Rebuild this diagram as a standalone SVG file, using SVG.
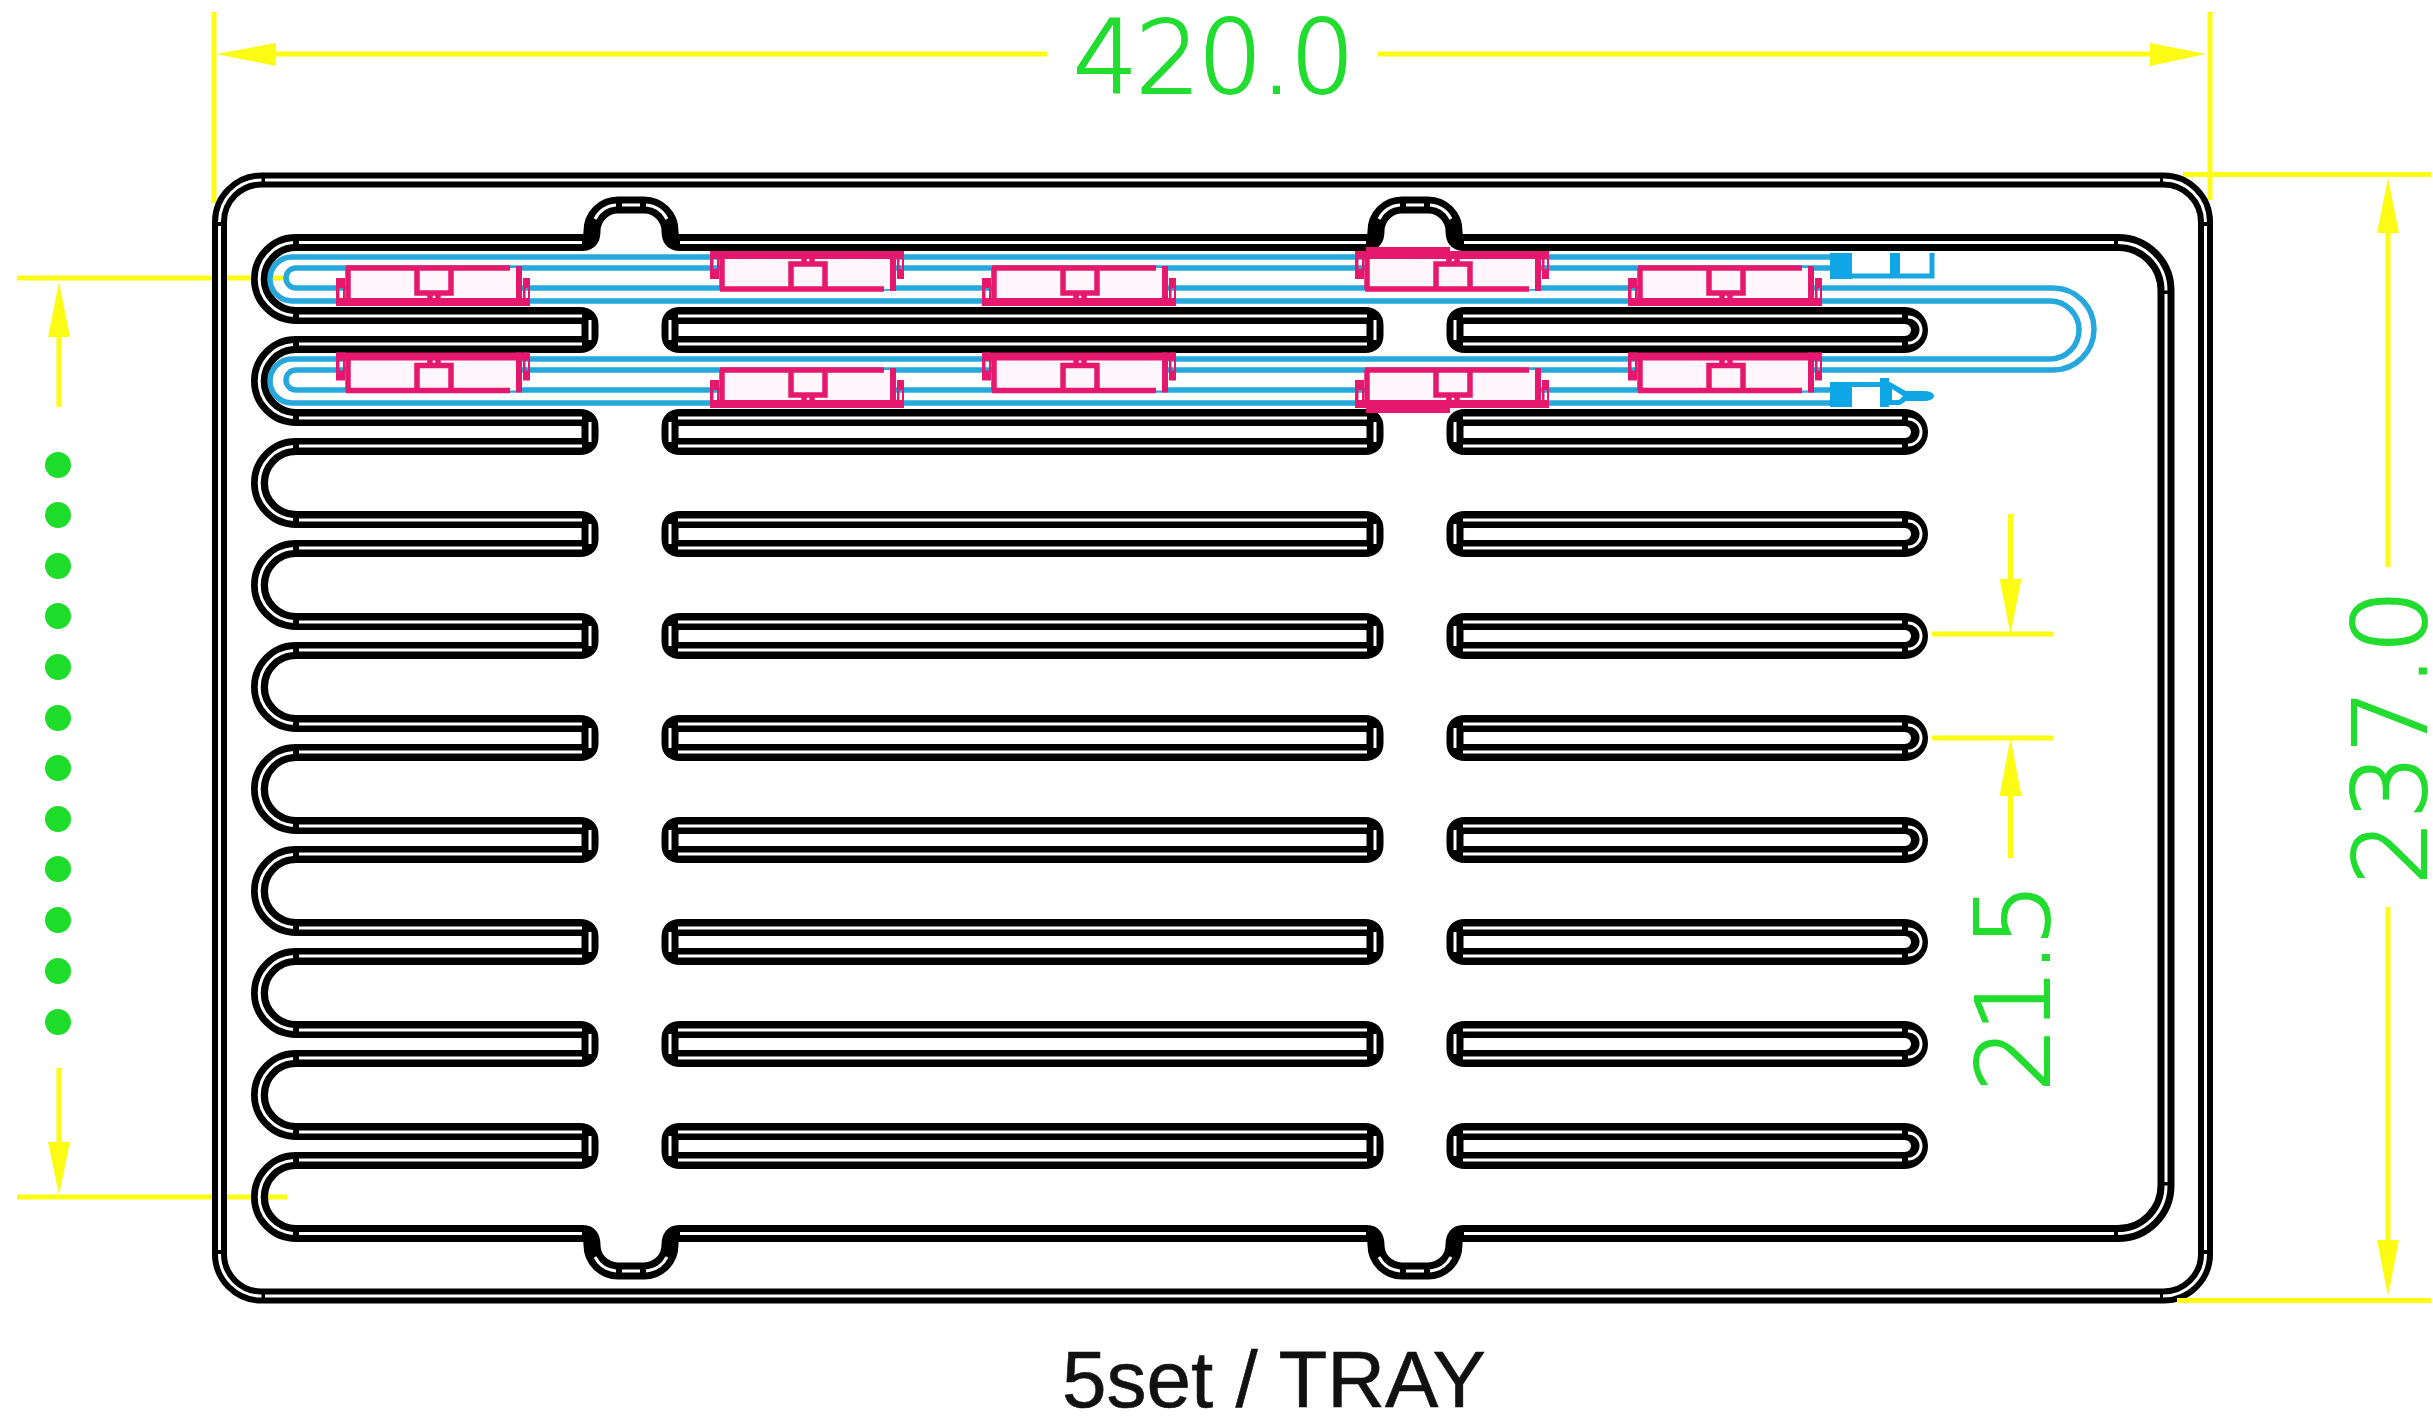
<svg xmlns="http://www.w3.org/2000/svg" xmlns:xlink="http://www.w3.org/1999/xlink" width="2433" height="1421" viewBox="0 0 2433 1421">
<style>
.bk{fill:none;stroke:#000;stroke-width:17;stroke-linejoin:round}
.fb{fill:none;stroke:#000;stroke-width:15;stroke-linejoin:round}
.wh{fill:none;stroke:#fff;stroke-width:3}
.yl{fill:none;stroke:#fbfb14;stroke-width:5}
.ya{fill:#fbfb14;stroke:none}
.tb{fill:none;stroke:#27a8dc;stroke-width:5.500}
.cb{fill:#0fa6e6;stroke:none}
.cl{fill:none;stroke:#18a6e0;stroke-width:5}
.pk{fill:#e6186e;stroke:none}
.pl{fill:none;stroke:#e6186e;stroke-width:5.500}
.gt{font-family:"DejaVu Sans","Liberation Sans",sans-serif;font-weight:200;font-size:102px;fill:#22dc30;stroke:#22dc30;stroke-width:2;text-anchor:middle}
.dot{fill:#1edc2a}
.cap{font-family:"Liberation Sans",Arial,sans-serif;font-size:80px;fill:#111;stroke:#111;stroke-width:.6}
</style>
<defs>
<g id="arc"><path class="bk" d="M296 242.5A36.5 36.5 0 0 0 296 315.5"/><path class="wh" d="M293 242.6A36.5 36.5 0 0 0 293 315.4"/></g>
<g id="rib">
<path class="bk" d="M296 315.5H580Q590 315.5 590 325V335Q590 344.5 580 344.5H296"/>
<path class="bk" d="M680 315.5Q670 315.5 670 325V335Q670 344.5 680 344.5H1365Q1375 344.5 1375 335V325Q1375 315.5 1365 315.5Z"/>
<path class="bk" d="M1465 315.5Q1455 315.5 1455 325V335Q1455 344.5 1465 344.5H1905A14.5 14.5 0 0 0 1905 315.5Z"/>
<path class="wh" d="M299 316H582M299 344H582M590 320V340M678 316H1367M678 344H1367M670 320V340M1375 320V340M1463 316H1902M1463 344H1902M1455 320V340M1908 317A13 13 0 0 1 1908 343"/>
</g>
<g id="compA">
<rect x="346" y="268" width="173" height="35" fill="#fff6fb"/>
<path class="pl" d="M346 268H510M348 268V305"/>
<rect class="pk" x="516" y="266" width="6" height="40"/>
<rect class="pk" x="336" y="298" width="194" height="8"/>
<path class="pk" fill-rule="evenodd" d="M336 278H345V306H336ZM339.500 288V298H343V288Z"/>
<path class="pk" fill-rule="evenodd" d="M523 278H530V306H523ZM525.500 288V298H528V288Z"/>
<path class="pl" d="M417 268V293H451V268M430 293V300M438 293V300" fill="none"/>
</g>
</defs>
<rect width="2433" height="1421" fill="#fff"/>

<g id="dimensions-extension">
<path class="yl" d="M214 12V203M2210 12V200M2183 174.500H2431M17 278H287M17 1197H287M1932 634H2053M1932 738H2053"/>
</g>

<g id="frame">
<path class="fb" d="M261.500 180H2163A42 42 0 0 1 2205.500 222V1254A42 42 0 0 1 2163 1296H261.500A42 42 0 0 1 219.500 1254V222A42 42 0 0 1 261.500 180Z"/>
<path class="wh" d="M265 180H2160M2163 180A42 42 0 0 1 2205.500 222M2205.500 226V1250M2205.500 1254A42 42 0 0 1 2163 1296M2160 1296H265M261.500 1296A42 42 0 0 1 219.500 1254M219.500 1250V226M219.500 222A42 42 0 0 1 261.500 180"/>
</g>
<path class="yl" d="M2177 1300.500H2431"/>

<g id="comb">
<path class="bk" d="M296 242.500H583Q592 242.500 592 231A26 26 0 0 1 618 205H644A26 26 0 0 1 670 231Q670 242.500 679 242.500H1367Q1376 242.500 1376 231A26 26 0 0 1 1402 205H1428A26 26 0 0 1 1454 231Q1454 242.500 1463 242.500H2118A48 48 0 0 1 2166 290.500V1185.500A48 48 0 0 1 2118 1233.500H1463Q1454 1233.500 1454 1245A26 26 0 0 1 1428 1271H1402A26 26 0 0 1 1376 1245Q1376 1233.500 1367 1233.500H679Q670 1233.500 670 1245A26 26 0 0 1 644 1271H618A26 26 0 0 1 592 1245Q592 1233.500 583 1233.500H296"/>
<path class="wh" d="M299 242.500H582M595 219A26 26 0 0 1 616 205.100M622 205H640M646 205.100A26 26 0 0 1 667 219M680 242.500H1366M1379 219A26 26 0 0 1 1400 205.100M1406 205H1424M1430 205.100A26 26 0 0 1 1451 219M1464 242.500H2114M2118 242.500A48 48 0 0 1 2166 290.500M2166 294V1182M2166 1185.500A48 48 0 0 1 2118 1233.500M2114 1233.500H1464M1451 1257A26 26 0 0 1 1430 1270.900M1424 1271H1406M1400 1270.900A26 26 0 0 1 1379 1257M1366 1233.500H680M667 1257A26 26 0 0 1 646 1270.900M640 1271H622M616 1270.900A26 26 0 0 1 595 1257M582 1233.500H299"/>
<use xlink:href="#arc"/>
<use xlink:href="#arc" y="102"/>
<use xlink:href="#arc" y="204"/>
<use xlink:href="#arc" y="306"/>
<use xlink:href="#arc" y="408"/>
<use xlink:href="#arc" y="510"/>
<use xlink:href="#arc" y="612"/>
<use xlink:href="#arc" y="714"/>
<use xlink:href="#arc" y="816"/>
<use xlink:href="#arc" y="918"/>
<use xlink:href="#rib"/>
<use xlink:href="#rib" y="102"/>
<use xlink:href="#rib" y="204"/>
<use xlink:href="#rib" y="306"/>
<use xlink:href="#rib" y="408"/>
<use xlink:href="#rib" y="510"/>
<use xlink:href="#rib" y="612"/>
<use xlink:href="#rib" y="714"/>
<use xlink:href="#rib" y="816"/>
</g>

<g id="tube">
<path class="tb" d="M1832 257H292A22 22 0 0 0 292 301H2050A29 29 0 0 1 2050 359H292A22 22 0 0 0 292 403H1832"/>
<path class="tb" d="M1832 268H296A10 10 0 0 0 296 288H2053A41 41 0 0 1 2053 370H296A10 10 0 0 0 296 390H1832"/>
</g>

<g id="connector-top">
<rect class="cb" x="1830" y="253" width="22" height="26"/>
<rect class="cb" x="1890" y="253" width="10" height="24"/>
<path class="cl" d="M1852 276H1932V253"/>
</g>
<g id="connector-bottom">
<rect class="cb" x="1830" y="382" width="22" height="25"/>
<rect class="cb" x="1880" y="378" width="9" height="29"/>
<path class="cl" d="M1852 384.500H1882"/>
<path class="cb" fill-rule="evenodd" d="M1888 381L1906 391H1926Q1934 392 1934 396Q1934 400 1926 401H1906L1900 405H1888ZM1892 389V400H1899L1903 396Z"/>
</g>

<g id="components">
<use xlink:href="#compA"/>
<use xlink:href="#compA" transform="translate(374,557) scale(1,-1)"/>
<use xlink:href="#compA" x="646"/>
<use xlink:href="#compA" transform="translate(1019,557) scale(1,-1)"/>
<use xlink:href="#compA" x="1292"/>
<use xlink:href="#compA" transform="translate(0,658.500) scale(1,-1)"/>
<use xlink:href="#compA" x="374" y="102"/>
<use xlink:href="#compA" transform="translate(646,658.500) scale(1,-1)"/>
<use xlink:href="#compA" x="1019" y="102"/>
<use xlink:href="#compA" transform="translate(1292,658.500) scale(1,-1)"/>
<rect class="pk" x="1366" y="247" width="84" height="8"/>
<rect class="pk" x="1366" y="404" width="84" height="9"/>
</g>

<g id="dimension-420">
<path class="yl" d="M276 54H1047M1378 54H2150"/>
<polygon class="ya" points="216,54 276,43 276,66"/>
<polygon class="ya" points="2206,54 2150,43 2150,66"/>
<text class="gt" x="1214" y="93" textLength="282">420.0</text>
</g>
<g id="dimension-237">
<path class="yl" d="M2388 233V567M2388 907V1240"/>
<polygon class="ya" points="2388,178 2377,233 2399,233"/>
<polygon class="ya" points="2388,1296 2377,1240 2399,1240"/>
<text class="gt" transform="translate(2426 737) rotate(-90)" textLength="296">237.0</text>
</g>
<g id="dimension-21-5">
<path class="yl" d="M2010.500 514V579M2010.500 796V858"/>
<polygon class="ya" points="2010.500,634 1999.500,579 2021.500,579"/>
<polygon class="ya" points="2010.500,738 1999.500,796 2021.500,796"/>
<text class="gt" transform="translate(2049 987) rotate(-90)" textLength="210">21.5</text>
</g>
<g id="dimension-pitch">
<path class="yl" d="M59 337V407M59 1068V1142"/>
<polygon class="ya" points="59,282 48,337 70,337"/>
<polygon class="ya" points="59,1195 48,1142 70,1142"/>
<circle class="dot" cx="58" cy="465" r="13"/>
<circle class="dot" cx="58" cy="515" r="13"/>
<circle class="dot" cx="58" cy="566" r="13"/>
<circle class="dot" cx="58" cy="616" r="13"/>
<circle class="dot" cx="58" cy="667" r="13"/>
<circle class="dot" cx="58" cy="718" r="13"/>
<circle class="dot" cx="58" cy="768" r="13"/>
<circle class="dot" cx="58" cy="819" r="13"/>
<circle class="dot" cx="58" cy="869" r="13"/>
<circle class="dot" cx="58" cy="920" r="13"/>
<circle class="dot" cx="58" cy="971" r="13"/>
<circle class="dot" cx="58" cy="1022" r="13"/>
</g>
<g id="caption"><text class="cap" x="1062" y="1407">5set / TRAY</text></g>
</svg>
